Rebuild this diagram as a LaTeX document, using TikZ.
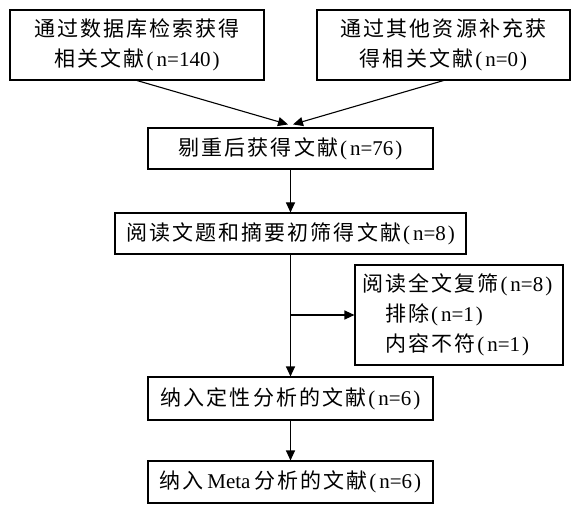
\documentclass[tikz,border=0pt]{standalone}
\usepackage{fontspec}
\setmainfont{Liberation Serif}
\newfontfamily\cjk{Noto Sans CJK SC}[LetterSpace=10]
\usetikzlibrary{arrows.meta}
\newcommand{\zh}[1]{{\cjk #1}}
\newcommand{\lp}{\kern2pt(\kern3pt}
\newcommand{\rp}{\kern2pt)}
\tikzset{
  box/.style={draw, line width=1.1pt, inner sep=0pt, minimum height=#1, align=center, font=\fontsize{21}{30}\selectfont},
  arr/.style={line width=1.1pt, -{Triangle[length=10pt,width=9pt]}}
}
\begin{document}
\begin{tikzpicture}[x=1pt,y=1pt]
\useasboundingbox (0,0) rectangle (588,514);
\fill[white] (0,0) rectangle (588,514);
\node[box=70pt, minimum width=254pt] (b1) at (137,469) {\zh{通过数据库检索获得}\\\zh{相关文献}\lp n=140\rp};
\node[box=70pt, minimum width=253pt] (b2) at (443.5,469) {\zh{通过其他资源补充获}\\\zh{得相关文献}\lp n=0\rp};
\node[box=41pt, minimum width=285pt] (b3) at (290.5,365.5) {\zh{剔重后获得文献}\lp n=76\rp};
\node[box=41pt, minimum width=351pt] (b4) at (290.5,280.5) {\zh{阅读文题和摘要初筛得文献}\lp n=8\rp};
\node[box=100pt, minimum width=208pt, align=left, text width=194pt, yshift=-1.5pt] (b5) at (459,200.5) {\zh{阅读全文复筛}\lp n=8\rp\\\hspace*{23pt}\zh{排除}\lp n=1\rp\\\hspace*{23pt}\zh{内容不符}\lp n=1\rp};
\node[box=43pt, minimum width=285pt] (b6) at (290.5,115.5) {\zh{纳入定性分析的文献}\lp n=6\rp};
\node[box=42pt, minimum width=285pt] (b7) at (290.5,32) {\zh{纳入}\,Meta\,\zh{分析的文献}\lp n=6\rp};
\coordinate (t1) at ([xshift=-2.5pt,yshift=3pt]b3.north);
\coordinate (t2) at ([xshift=2.5pt,yshift=3pt]b3.north);
\draw[arr] (b1.south) -- (t1);
\draw[arr] (b2.south) -- (t2);
\draw[arr] (b3.south) -- (b3.south |- b4.north);
\draw[arr] (b4.south) -- (b6.north);
\coordinate (br) at (b4.south |- b5.west);
\draw[arr] (br) -- (b5.west);
\draw[arr] (b6.south) -- (b7.north);
\end{tikzpicture}
\end{document}
